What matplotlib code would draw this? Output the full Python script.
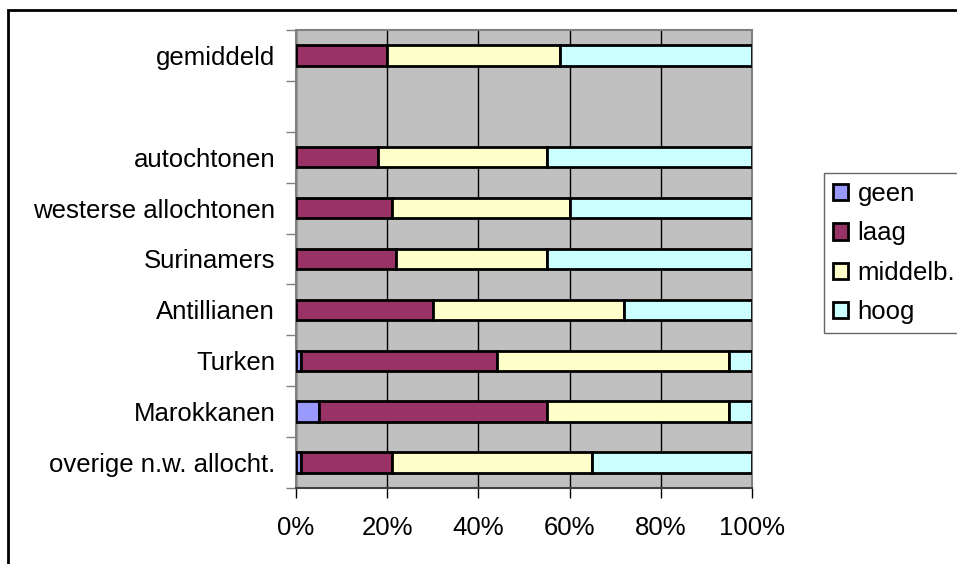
import matplotlib.pyplot as plt
from matplotlib.patches import Rectangle

plt.rcParams['font.family'] = ['Liberation Sans', 'DejaVu Sans']

# categorieen van onder naar boven, '' = lege regel
categorieen = ['overige n.w. allocht.', 'Marokkanen', 'Turken', 'Antillianen',
               'Surinamers', 'westerse allochtonen', 'autochtonen', '', 'gemiddeld']

geen = [1, 5, 1, 0, 0, 0, 0, None, 0]
laag = [20, 50, 43, 30, 22, 21, 18, None, 20]
middelb = [44, 40, 51, 42, 33, 39, 37, None, 38]
hoog = [35, 5, 5, 28, 45, 40, 45, None, 42]

reeksen = ['geen', 'laag', 'middelb.', 'hoog']
kleuren = ['#9999FF', '#993366', '#FFFFCC', '#CCFFFF']

fs = 18.5

fig = plt.figure(figsize=(9.57, 5.64), dpi=100)
fig.patch.set_facecolor('white')

# kader rond de grafiek (loopt rechts en onder door)
fig.patches.append(Rectangle((8 / 957, -0.05), 1.1, 1 - 10 / 564 + 0.05,
                             transform=fig.transFigure, fill=False,
                             edgecolor='black', linewidth=2))

ax = fig.add_axes([296 / 957, 1 - 488 / 564, 456 / 957, 458 / 564])
ax.set_facecolor('#C0C0C0')

pos = [i for i in range(len(categorieen)) if laag[i] is not None]
links = [0] * len(pos)
for naam, data, kleur in zip(reeksen, [geen, laag, middelb, hoog], kleuren):
    w = [data[i] for i in pos]
    ax.barh(pos, w, left=links, height=0.4, color=kleur, edgecolor='black',
            linewidth=2, label=naam, zorder=3)
    links = [a + b for a, b in zip(links, w)]

ax.set_xlim(0, 100)
ax.set_ylim(-0.5, len(categorieen) - 0.5)

ax.set_xticks([0, 20, 40, 60, 80, 100])
ax.set_xticklabels(['0%', '20%', '40%', '60%', '80%', '100%'], fontsize=fs)
ax.tick_params(axis='x', length=7, width=1, color='black', pad=13)
ax.grid(axis='x', color='black', linewidth=1, zorder=1)

ax.set_yticks(range(len(categorieen)))
ax.set_yticklabels(categorieen, fontsize=fs)
ax.set_yticks([i - 0.5 for i in range(len(categorieen) + 1)], minor=True)
ax.tick_params(axis='y', which='major', length=0, pad=15)
ax.tick_params(axis='y', which='minor', length=7, width=1, color='#808080')

for s in ax.spines.values():
    s.set_color('#808080')
    s.set_linewidth(1.5)
ax.spines['bottom'].set_color('#404040')

ax.legend(loc='upper left', bbox_to_anchor=(824 / 957, 1 - 173 / 564),
          bbox_transform=fig.transFigure, fontsize=fs, frameon=True,
          fancybox=False, edgecolor='#404040', handlelength=0.6,
          handleheight=0.6, handletextpad=0.35, labelspacing=0.6,
          borderpad=0.35, borderaxespad=0)

fig.savefig('out.png', dpi=100)
